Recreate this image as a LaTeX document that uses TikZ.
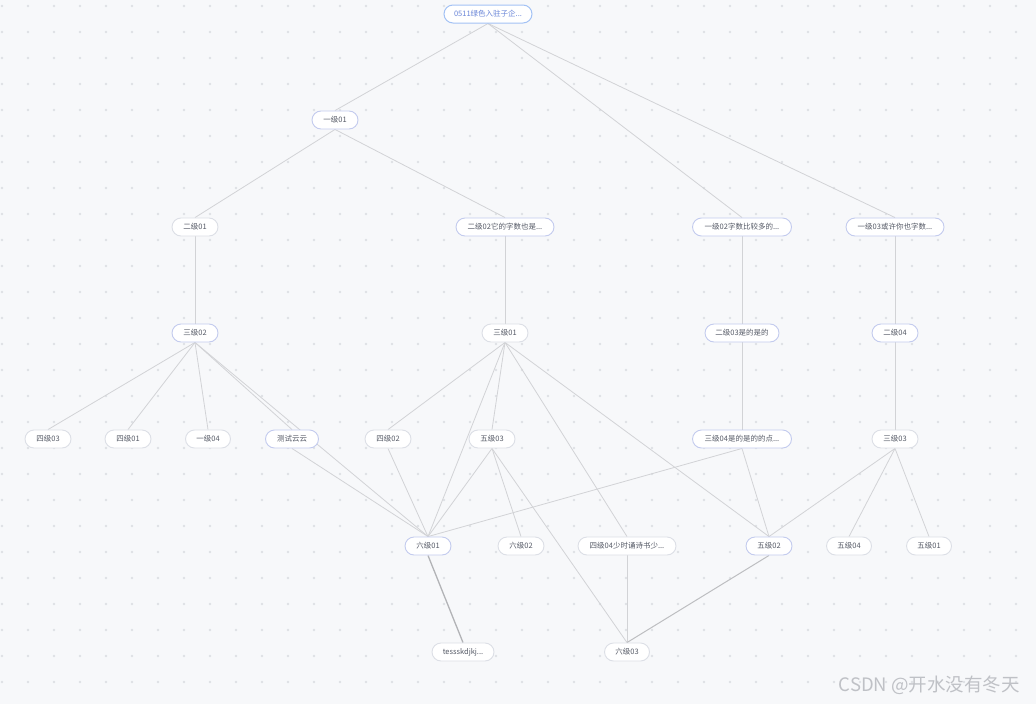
\documentclass[tikz,border=0pt]{standalone}
\usepackage{fontspec}
\setmainfont{Noto Sans CJK SC}
\usetikzlibrary{calc}
\pgfdeclarelayer{bgfill}
\pgfdeclarelayer{background}
\pgfsetlayers{bgfill,background,main}
\definecolor{bgc}{HTML}{F7F8FA}
\definecolor{dotc}{HTML}{DEE0E5}
\definecolor{edgec}{HTML}{D2D3D6}
\definecolor{txtc}{HTML}{555A66}
\definecolor{greyb}{HTML}{DCDFE6}
\definecolor{blueb}{HTML}{C3CBEE}
\definecolor{rootb}{HTML}{A3C2F5}
\definecolor{roott}{HTML}{6A86D8}
\definecolor{wmc}{HTML}{BFC1C6}
\tikzset{
  nd/.style={draw=greyb, line width=0.9pt, fill=white, rounded corners=9pt,
    minimum height=18pt, inner sep=0pt, text=txtc,
    font=\fontsize{7.5}{9}\selectfont},
  hl/.style={nd, draw=blueb},
  rootnd/.style={nd, draw=rootb, line width=1pt, text=roott},
  ed/.style={draw=edgec, line width=0.8pt},
  ed2/.style={draw=edgec!85!black, line width=1.3pt},
  ed3/.style={draw=edgec!90!black, line width=1pt}
}
\begin{document}
\begin{tikzpicture}[x=1pt,y=-1pt]
\useasboundingbox (0,0) rectangle (1036,704);
\begin{pgfonlayer}{bgfill}
\fill[bgc] (0,0) rectangle (1036,704);
\begin{scope}
\clip (0,0) rectangle (1036,704);
\foreach \i in {0,...,39} {
  \foreach \j in {0,...,27} {
    \fill[dotc] ({2+26*\i},{6+26*\j}) circle (1.3pt);
  }
}
\end{scope}
\end{pgfonlayer}
% nodes
\node[rootnd, minimum width=88pt] (root) at (488,14) {0511绿色入驻子企...};
\node[hl, minimum width=46pt] (a1) at (335,120) {一级01};
\node[nd, minimum width=46pt] (b1) at (195,227) {二级01};
\node[hl, minimum width=98pt] (b2) at (505,227) {二级02它的字数也是...};
\node[hl, minimum width=99pt] (a2) at (742,227) {一级02字数比较多的...};
\node[hl, minimum width=98pt] (a3) at (895,227) {一级03或许你也字数...};
\node[hl, minimum width=46pt] (c2) at (195,333) {三级02};
\node[nd, minimum width=46pt] (c1) at (505,333) {三级01};
\node[hl, minimum width=74pt] (b3) at (742,333) {二级03是的是的};
\node[hl, minimum width=46pt] (b4) at (895,333) {二级04};
\node[nd, minimum width=46pt] (d3) at (48,439) {四级03};
\node[nd, minimum width=46pt] (d1) at (128,439) {四级01};
\node[nd, minimum width=45pt] (a4) at (208,439) {一级04};
\node[hl, minimum width=53pt] (cs) at (292,439) {测试云云};
\node[nd, minimum width=46pt] (d2) at (388,439) {四级02};
\node[nd, minimum width=46pt] (e3) at (492,439) {五级03};
\node[hl, minimum width=99pt] (c4) at (742,439) {三级04是的是的的点...};
\node[nd, minimum width=46pt] (c3) at (895,439) {三级03};
\node[hl, minimum width=46pt] (f1) at (428,546) {六级01};
\node[nd, minimum width=46pt] (f2) at (521,546) {六级02};
\node[nd, minimum width=98pt] (d4) at (627,546) {四级04少时诵诗书少...};
\node[hl, minimum width=46pt] (e2) at (769,546) {五级02};
\node[nd, minimum width=45pt] (e4) at (849,546) {五级04};
\node[nd, minimum width=45pt] (e1) at (929,546) {五级01};
\node[nd, minimum width=62pt] (ts) at (463,652) {tessskdjkj...};
\node[nd, minimum width=45pt] (f3) at (627,652) {六级03};
\node[text=wmc, font=\fontsize{18.5}{20}\selectfont, anchor=east, inner sep=0pt] (wm) at (1020,685) {CSDN @开水没有冬天};
% edges
\begin{pgfonlayer}{background}
\foreach \s/\t in {root/a1, root/a2, root/a3, a1/b1, a1/b2, b1/c2, b2/c1,
  a2/b3, a3/b4, b3/c4, b4/c3,
  c2/d3, c2/d1, c2/a4, c2/cs, c2/f1, cs/f1,
  c1/d2, c1/e3, c1/f1, c1/d4, c1/e2, d2/f1,
  e3/f1, e3/f2, e3/f3, c4/f1, c4/e2,
  c3/e2, c3/e4, c3/e1, d4/f3} {
  \draw[ed] (\s.south) -- (\t.north);
}
\draw[ed3] (e2.south) -- (f3.north);
\draw[ed2] (f1.south) -- (ts.north);
\end{pgfonlayer}
\end{tikzpicture}
\end{document}
